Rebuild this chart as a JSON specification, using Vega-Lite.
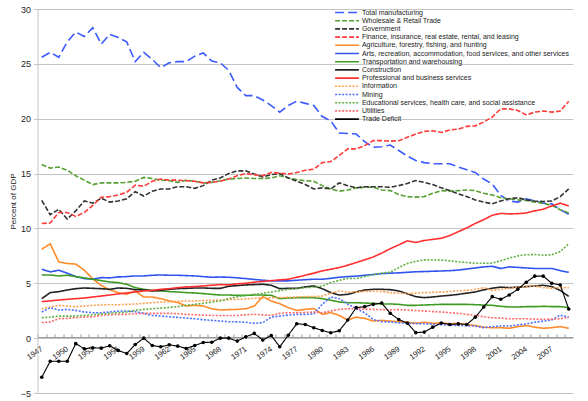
{
  "$schema": "https://vega.github.io/schema/vega-lite/v6.json",
  "width": 535.5,
  "height": 384,
  "autosize": "none",
  "padding": {"left": 37.5, "top": 9, "right": 15, "bottom": 8},
  "background": "white",
  "config": {"view": {"stroke": null}, "font": "Liberation Sans"},
  "datasets": {
    "names": [
      {"k": "m", "name": "Total manufacturing"},
      {"k": "w", "name": "Wholesale & Retail Trade"},
      {"k": "g", "name": "Government"},
      {"k": "f", "name": "Finance, insurance, real estate, rental, and leasing"},
      {"k": "a", "name": "Agriculture, forestry, fishing, and hunting"},
      {"k": "r", "name": "Arts, recreation, accommodation, food services, and other services"},
      {"k": "t", "name": "Transportation and warehousing"},
      {"k": "c", "name": "Construction"},
      {"k": "p", "name": "Professional and business services"},
      {"k": "i", "name": "Information"},
      {"k": "n", "name": "Mining"},
      {"k": "e", "name": "Educational services, health care, and social assistance"},
      {"k": "u", "name": "Utilities"},
      {"k": "d", "name": "Trade Deficit"}
    ],
    "wide": [
      {"yr":1947,"m":25.6,"w":15.83,"g":12.55,"f":10.45,"a":8.1,"r":6.28,"t":5.76,"c":3.6,"p":3.33,"i":2.68,"n":2.38,"e":1.86,"u":1.42,"d":-3.57},
      {"yr":1948,"m":26.05,"w":15.5,"g":11.25,"f":10.5,"a":8.6,"r":6.04,"t":5.76,"c":4.15,"p":3.39,"i":2.84,"n":2.78,"e":1.92,"u":1.47,"d":-2.1},
      {"yr":1949,"m":25.6,"w":15.6,"g":11.75,"f":11.45,"a":6.95,"r":6.19,"t":5.67,"c":4.24,"p":3.48,"i":2.99,"n":2.56,"e":2.01,"u":1.77,"d":-2.1},
      {"yr":1950,"m":27.0,"w":15.3,"g":10.85,"f":11.45,"a":6.8,"r":5.92,"t":5.73,"c":4.39,"p":3.54,"i":2.93,"n":2.62,"e":2.01,"u":1.8,"d":-2.1},
      {"yr":1951,"m":27.9,"w":14.8,"g":11.6,"f":11.1,"a":6.75,"r":5.61,"t":5.61,"c":4.51,"p":3.6,"i":2.87,"n":2.53,"e":2.01,"u":1.86,"d":-0.5},
      {"yr":1952,"m":27.5,"w":14.4,"g":12.5,"f":11.45,"a":6.2,"r":5.43,"t":5.49,"c":4.57,"p":3.66,"i":2.93,"n":2.38,"e":2.07,"u":1.92,"d":-0.97},
      {"yr":1953,"m":28.3,"w":14.0,"g":12.3,"f":12.1,"a":5.4,"r":5.37,"t":5.37,"c":4.54,"p":3.75,"i":2.99,"n":2.32,"e":2.13,"u":1.95,"d":-0.88},
      {"yr":1954,"m":26.8,"w":14.15,"g":12.75,"f":12.85,"a":4.8,"r":5.52,"t":5.24,"c":4.51,"p":3.84,"i":3.02,"n":2.32,"e":2.2,"u":2.07,"d":-0.91},
      {"yr":1955,"m":27.7,"w":14.15,"g":12.4,"f":12.9,"a":4.4,"r":5.49,"t":5.12,"c":4.45,"p":3.93,"i":3.05,"n":2.38,"e":2.26,"u":2.13,"d":-0.7},
      {"yr":1956,"m":27.4,"w":14.15,"g":12.5,"f":13.05,"a":4.15,"r":5.58,"t":5.06,"c":4.57,"p":4.03,"i":3.05,"n":2.47,"e":2.32,"u":2.17,"d":-1.13},
      {"yr":1957,"m":27.0,"w":14.2,"g":12.7,"f":13.3,"a":4.0,"r":5.61,"t":4.91,"c":4.54,"p":4.12,"i":3.08,"n":2.47,"e":2.38,"u":2.17,"d":-1.4},
      {"yr":1958,"m":25.2,"w":14.3,"g":13.35,"f":13.95,"a":4.3,"r":5.67,"t":4.6,"c":4.42,"p":4.21,"i":3.11,"n":2.41,"e":2.53,"u":2.23,"d":-0.58},
      {"yr":1959,"m":26.05,"w":14.65,"g":12.95,"f":13.85,"a":3.75,"r":5.67,"t":4.45,"c":4.39,"p":4.3,"i":3.17,"n":2.26,"e":2.62,"u":2.26,"d":0},
      {"yr":1960,"m":25.4,"w":14.55,"g":13.4,"f":14.3,"a":3.75,"r":5.73,"t":4.36,"c":4.3,"p":4.36,"i":3.23,"n":2.07,"e":2.68,"u":2.26,"d":-0.67},
      {"yr":1961,"m":24.65,"w":14.4,"g":13.6,"f":14.5,"a":3.6,"r":5.76,"t":4.3,"c":4.36,"p":4.45,"i":3.29,"n":2.01,"e":2.74,"u":2.26,"d":-0.79},
      {"yr":1962,"m":25.1,"w":14.35,"g":13.6,"f":14.4,"a":3.4,"r":5.73,"t":4.24,"c":4.45,"p":4.51,"i":3.32,"n":1.95,"e":2.8,"u":2.26,"d":-0.61},
      {"yr":1963,"m":25.2,"w":14.2,"g":13.8,"f":14.4,"a":3.25,"r":5.73,"t":4.21,"c":4.51,"p":4.6,"i":3.35,"n":1.89,"e":2.87,"u":2.23,"d":-0.73},
      {"yr":1964,"m":25.2,"w":14.4,"g":13.8,"f":14.35,"a":2.93,"r":5.7,"t":4.15,"c":4.54,"p":4.67,"i":3.39,"n":1.83,"e":2.99,"u":2.17,"d":-0.94},
      {"yr":1965,"m":25.7,"w":14.3,"g":13.65,"f":14.3,"a":2.99,"r":5.67,"t":4.12,"c":4.57,"p":4.7,"i":3.39,"n":1.77,"e":3.08,"u":2.13,"d":-0.67},
      {"yr":1966,"m":26.0,"w":14.15,"g":13.9,"f":14.15,"a":2.93,"r":5.61,"t":4.06,"c":4.57,"p":4.76,"i":3.42,"n":1.68,"e":3.17,"u":2.1,"d":-0.4},
      {"yr":1967,"m":25.25,"w":14.2,"g":14.4,"f":14.2,"a":2.68,"r":5.55,"t":3.99,"c":4.54,"p":4.82,"i":3.45,"n":1.62,"e":3.29,"u":2.07,"d":-0.37},
      {"yr":1968,"m":25.1,"w":14.35,"g":14.6,"f":14.3,"a":2.56,"r":5.57,"t":3.93,"c":4.54,"p":4.88,"i":3.48,"n":1.56,"e":3.39,"u":2.07,"d":0},
      {"yr":1969,"m":24.4,"w":14.5,"g":15.0,"f":14.5,"a":2.6,"r":5.55,"t":3.93,"c":4.73,"p":4.85,"i":3.5,"n":1.5,"e":3.6,"u":2.07,"d":0},
      {"yr":1970,"m":22.85,"w":14.55,"g":15.25,"f":14.8,"a":2.62,"r":5.5,"t":3.9,"c":4.79,"p":4.95,"i":3.54,"n":1.48,"e":3.78,"u":2.07,"d":-0.27},
      {"yr":1971,"m":22.1,"w":14.6,"g":15.25,"f":15.0,"a":2.68,"r":5.43,"t":3.9,"c":4.85,"p":5.0,"i":3.58,"n":1.45,"e":3.9,"u":2.12,"d":0.12},
      {"yr":1972,"m":22.1,"w":14.55,"g":14.95,"f":14.9,"a":2.93,"r":5.35,"t":3.93,"c":4.88,"p":5.1,"i":3.62,"n":1.35,"e":4.0,"u":2.17,"d":0.43},
      {"yr":1973,"m":21.7,"w":14.55,"g":14.7,"f":14.8,"a":3.78,"r":5.28,"t":3.93,"c":4.91,"p":5.17,"i":3.66,"n":1.41,"e":4.09,"u":2.12,"d":-0.18},
      {"yr":1974,"m":21.2,"w":14.6,"g":14.9,"f":15.1,"a":3.38,"r":5.22,"t":3.9,"c":4.82,"p":5.24,"i":3.69,"n":1.92,"e":4.21,"u":2.07,"d":0.24},
      {"yr":1975,"m":20.6,"w":14.8,"g":15.0,"f":15.05,"a":3.14,"r":5.22,"t":3.6,"c":4.51,"p":5.31,"i":3.69,"n":2.01,"e":4.33,"u":2.26,"d":-0.79},
      {"yr":1976,"m":21.2,"w":14.6,"g":14.6,"f":14.95,"a":2.78,"r":5.22,"t":3.66,"c":4.54,"p":5.37,"i":3.72,"n":2.1,"e":4.45,"u":2.32,"d":0.27},
      {"yr":1977,"m":21.6,"w":14.45,"g":14.3,"f":15.1,"a":2.53,"r":5.28,"t":3.69,"c":4.54,"p":5.55,"i":3.75,"n":2.17,"e":4.54,"u":2.32,"d":1.31},
      {"yr":1978,"m":21.4,"w":14.35,"g":14.0,"f":15.3,"a":2.62,"r":5.33,"t":3.69,"c":4.67,"p":5.73,"i":3.78,"n":2.17,"e":4.6,"u":2.35,"d":1.25},
      {"yr":1979,"m":21.2,"w":14.3,"g":13.6,"f":15.4,"a":2.71,"r":5.37,"t":3.69,"c":4.76,"p":5.92,"i":3.78,"n":2.2,"e":4.64,"u":2.38,"d":0.95},
      {"yr":1980,"m":20.2,"w":13.9,"g":13.7,"f":16.0,"a":2.17,"r":5.37,"t":3.6,"c":4.51,"p":6.13,"i":3.84,"n":3.08,"e":4.76,"u":2.32,"d":0.7},
      {"yr":1981,"m":19.8,"w":13.6,"g":13.6,"f":16.1,"a":2.32,"r":5.45,"t":3.45,"c":4.15,"p":6.28,"i":4.1,"n":3.75,"e":5.06,"u":2.47,"d":0.49},
      {"yr":1982,"m":18.7,"w":13.4,"g":14.15,"f":16.65,"a":2.07,"r":5.55,"t":3.3,"c":3.93,"p":6.44,"i":4.3,"n":3.6,"e":5.27,"u":2.62,"d":0.67},
      {"yr":1983,"m":18.65,"w":13.5,"g":13.9,"f":17.25,"a":1.65,"r":5.61,"t":3.23,"c":3.99,"p":6.65,"i":4.2,"n":3.1,"e":5.43,"u":2.68,"d":1.65},
      {"yr":1984,"m":18.6,"w":13.7,"g":13.7,"f":17.25,"a":1.92,"r":5.65,"t":3.23,"c":4.21,"p":6.89,"i":4.22,"n":2.7,"e":5.43,"u":2.71,"d":2.78},
      {"yr":1985,"m":17.9,"w":13.75,"g":13.8,"f":17.55,"a":1.8,"r":5.73,"t":3.2,"c":4.39,"p":7.14,"i":4.25,"n":2.3,"e":5.61,"u":2.62,"d":2.87},
      {"yr":1986,"m":17.4,"w":13.75,"g":13.8,"f":18.0,"a":1.56,"r":5.8,"t":3.17,"c":4.45,"p":7.4,"i":4.28,"n":1.7,"e":5.79,"u":2.62,"d":3.08},
      {"yr":1987,"m":17.45,"w":13.5,"g":13.8,"f":18.0,"a":1.62,"r":5.88,"t":3.11,"c":4.45,"p":7.75,"i":4.26,"n":1.5,"e":5.93,"u":2.6,"d":3.2},
      {"yr":1988,"m":17.6,"w":13.45,"g":13.75,"f":17.95,"a":1.55,"r":5.92,"t":3.12,"c":4.42,"p":8.15,"i":4.15,"n":1.47,"e":6.0,"u":2.58,"d":2.26},
      {"yr":1989,"m":17.1,"w":13.1,"g":13.9,"f":18.0,"a":1.5,"r":5.95,"t":3.08,"c":4.3,"p":8.5,"i":4.1,"n":1.4,"e":6.43,"u":2.6,"d":1.7},
      {"yr":1990,"m":16.6,"w":12.9,"g":14.1,"f":18.3,"a":1.45,"r":6.0,"t":2.99,"c":4.05,"p":8.87,"i":4.05,"n":1.35,"e":6.8,"u":2.56,"d":1.37},
      {"yr":1991,"m":16.2,"w":12.85,"g":14.36,"f":18.6,"a":1.35,"r":6.05,"t":2.99,"c":3.78,"p":8.72,"i":4.1,"n":1.33,"e":7.0,"u":2.52,"d":0.5},
      {"yr":1992,"m":16.0,"w":12.9,"g":14.2,"f":18.85,"a":1.45,"r":6.07,"t":3.02,"c":3.69,"p":8.9,"i":4.15,"n":1.31,"e":7.14,"u":2.47,"d":0.55},
      {"yr":1993,"m":15.9,"w":13.2,"g":14.0,"f":18.9,"a":1.35,"r":6.1,"t":3.05,"c":3.75,"p":9.0,"i":4.18,"n":1.27,"e":7.12,"u":2.42,"d":1.0},
      {"yr":1994,"m":15.9,"w":13.45,"g":13.7,"f":18.75,"a":1.4,"r":6.12,"t":3.08,"c":3.84,"p":9.1,"i":4.2,"n":1.22,"e":7.11,"u":2.38,"d":1.37},
      {"yr":1995,"m":15.9,"w":13.4,"g":13.45,"f":18.97,"a":1.3,"r":6.15,"t":3.08,"c":3.9,"p":9.35,"i":4.25,"n":1.19,"e":7.05,"u":2.32,"d":1.25},
      {"yr":1996,"m":15.6,"w":13.45,"g":13.15,"f":19.05,"a":1.35,"r":6.2,"t":3.08,"c":3.99,"p":9.7,"i":4.3,"n":1.16,"e":6.96,"u":2.26,"d":1.3},
      {"yr":1997,"m":15.35,"w":13.5,"g":12.9,"f":19.3,"a":1.25,"r":6.3,"t":3.08,"c":4.1,"p":10.05,"i":4.35,"n":1.13,"e":6.9,"u":2.17,"d":1.25},
      {"yr":1998,"m":15.1,"w":13.45,"g":12.6,"f":19.35,"a":1.15,"r":6.4,"t":3.05,"c":4.21,"p":10.45,"i":4.45,"n":1.1,"e":6.83,"u":2.07,"d":1.9},
      {"yr":1999,"m":14.5,"w":13.2,"g":12.4,"f":19.7,"a":1.0,"r":6.5,"t":3.02,"c":4.4,"p":10.8,"i":4.6,"n":0.95,"e":6.83,"u":1.95,"d":2.84},
      {"yr":2000,"m":14.05,"w":13.05,"g":12.25,"f":20.15,"a":0.95,"r":6.55,"t":2.99,"c":4.55,"p":11.2,"i":4.35,"n":1.05,"e":6.83,"u":1.86,"d":3.78},
      {"yr":2001,"m":13.0,"w":12.8,"g":12.5,"f":20.9,"a":0.95,"r":6.35,"t":2.9,"c":4.65,"p":11.37,"i":4.45,"n":1.1,"e":7.05,"u":1.82,"d":3.54},
      {"yr":2002,"m":12.5,"w":12.7,"g":12.7,"f":20.9,"a":0.9,"r":6.5,"t":2.84,"c":4.6,"p":11.32,"i":4.55,"n":1.1,"e":7.3,"u":1.77,"d":3.93},
      {"yr":2003,"m":12.4,"w":12.6,"g":12.8,"f":20.75,"a":1.05,"r":6.45,"t":2.84,"c":4.65,"p":11.35,"i":4.62,"n":1.2,"e":7.5,"u":1.77,"d":4.45},
      {"yr":2004,"m":12.7,"w":12.55,"g":12.6,"f":20.35,"a":1.15,"r":6.4,"t":2.87,"c":4.7,"p":11.4,"i":4.7,"n":1.3,"e":7.6,"u":1.77,"d":5.1},
      {"yr":2005,"m":12.5,"w":12.4,"g":12.5,"f":20.6,"a":1.0,"r":6.35,"t":2.87,"c":4.75,"p":11.6,"i":4.76,"n":1.45,"e":7.62,"u":1.74,"d":5.65},
      {"yr":2006,"m":12.3,"w":12.3,"g":12.45,"f":20.7,"a":0.9,"r":6.35,"t":2.9,"c":4.82,"p":11.75,"i":4.6,"n":1.55,"e":7.56,"u":1.71,"d":5.65},
      {"yr":2007,"m":12.25,"w":12.1,"g":12.5,"f":20.6,"a":0.95,"r":6.35,"t":2.87,"c":4.7,"p":12.05,"i":4.55,"n":1.65,"e":7.6,"u":1.74,"d":5.0},
      {"yr":2008,"m":11.7,"w":11.7,"g":12.9,"f":20.7,"a":1.05,"r":6.15,"t":2.87,"c":4.35,"p":12.3,"i":4.6,"n":2.1,"e":7.9,"u":1.77,"d":4.85},
      {"yr":2009,"m":11.3,"w":11.4,"g":13.6,"f":21.6,"a":0.9,"r":6.0,"t":2.78,"c":3.8,"p":12.05,"i":4.6,"n":1.9,"e":8.6,"u":1.9,"d":2.65}
    ]
  },
  "data": {"name": "wide"},
  "transform": [
    {"fold": ["m","w","g","f","a","r","t","c","p","i","n","e","u","d"], "as": ["k","v"]},
    {"lookup": "k", "from": {"data": {"name": "names"}, "key": "k", "fields": ["name"]}}
  ],
  "encoding": {
    "x": {
      "field": "yr", "type": "quantitative",
      "scale": {"domain": [1946.5, 2009.5], "nice": false, "zero": false},
      "axis": {
        "values": [1947,1948,1949,1950,1951,1952,1953,1954,1955,1956,1957,1958,1959,1960,1961,1962,1963,1964,1965,1966,1967,1968,1969,1970,1971,1972,1973,1974,1975,1976,1977,1978,1979,1980,1981,1982,1983,1984,1985,1986,1987,1988,1989,1990,1991,1992,1993,1994,1995,1996,1997,1998,1999,2000,2001,2002,2003,2004,2005,2006,2007,2008,2009],
        "labelExpr": "(datum.value - 1947) % 3 === 0 ? '' + datum.value : ''",
        "labelAngle": -35, "labelAlign": "right", "labelBaseline": "middle",
        "labelFontSize": 7.8, "labelPadding": 14, "labelDx": -3, "labelColor": "#222",
        "labelOverlap": false, "labelBound": false, "labelFlush": false, "labelSeparation": 0,
        "tickOffset": -4.25, "labelOffset": 4.25,
        "offset": -56, "grid": false, "title": null,
        "tickSize": -3, "tickColor": "#999", "domainColor": "#999"
      }
    },
    "y": {
      "field": "v", "type": "quantitative",
      "scale": {"domain": [-5, 30], "nice": false},
      "axis": {
        "values": [-5,0,5,10,15,20,25,30],
        "title": "Percent of GDP", "titleFontSize": 8, "titleFontWeight": "normal", "titleColor": "#222", "titlePadding": 3,
        "labelFontSize": 9, "labelColor": "#222", "labelPadding": 3,
        "gridColor": "#c4c4c4", "domainColor": "#c4c4c4", "tickColor": "#c4c4c4", "tickSize": 4
      }
    }
  },
  "layer": [
    {
      "mark": {"type": "line", "strokeCap": "butt"},
      "encoding": {
        "color": {
          "field": "name", "type": "nominal",
          "scale": {
            "domain": ["Total manufacturing","Wholesale & Retail Trade","Government","Finance, insurance, real estate, rental, and leasing","Agriculture, forestry, fishing, and hunting","Arts, recreation, accommodation, food services, and other services","Transportation and warehousing","Construction","Professional and business services","Information","Mining","Educational services, health care, and social assistance","Utilities","Trade Deficit"],
            "range": ["#3b5bff","#55a030","#333333","#ff3b3b","#ff8a2b","#2f55f0","#3f9a24","#222222","#ff2f2f","#ffa050","#5070ff","#60b040","#ff6a6a","#000000"]
          },
          "legend": {"title": null, "orient": "none", "legendX": 302, "legendY": -4, "padding": 3, "labelFontSize": 7, "labelLimit": 400, "labelColor": "#222", "symbolSize": 49, "symbolStrokeWidth": 1.6, "rowPadding": 0.2, "labelOffset": 10.4, "symbolType": "M-3.4,0H3.4"}
        },
        "strokeDash": {
          "field": "name", "type": "nominal",
          "scale": {
            "domain": ["Total manufacturing","Wholesale & Retail Trade","Government","Finance, insurance, real estate, rental, and leasing","Agriculture, forestry, fishing, and hunting","Arts, recreation, accommodation, food services, and other services","Transportation and warehousing","Construction","Professional and business services","Information","Mining","Educational services, health care, and social assistance","Utilities","Trade Deficit"],
            "range": [[9,4],[5,2],[5,2],[5,2],[1,0],[1,0],[1,0],[1,0],[1,0],[2,1.5],[2,1.5],[2,1.5],[2,1.5],[1,0]]
          },
          "legend": {"title": null, "orient": "none", "legendX": 302, "legendY": -4, "padding": 3, "labelFontSize": 7, "labelLimit": 400, "labelColor": "#222", "symbolSize": 49, "symbolStrokeWidth": 1.6, "rowPadding": 0.2, "labelOffset": 10.4, "symbolType": "M-3.4,0H3.4"}
        },
        "strokeWidth": {
          "condition": {"test": "datum.k === 'd'", "value": 1.1},
          "value": 1.6
        }
      }
    },
    {
      "transform": [{"filter": "datum.k === 'd'"}],
      "mark": {"type": "point", "filled": true, "size": 13, "color": "#000", "opacity": 1}
    }
  ]
}
